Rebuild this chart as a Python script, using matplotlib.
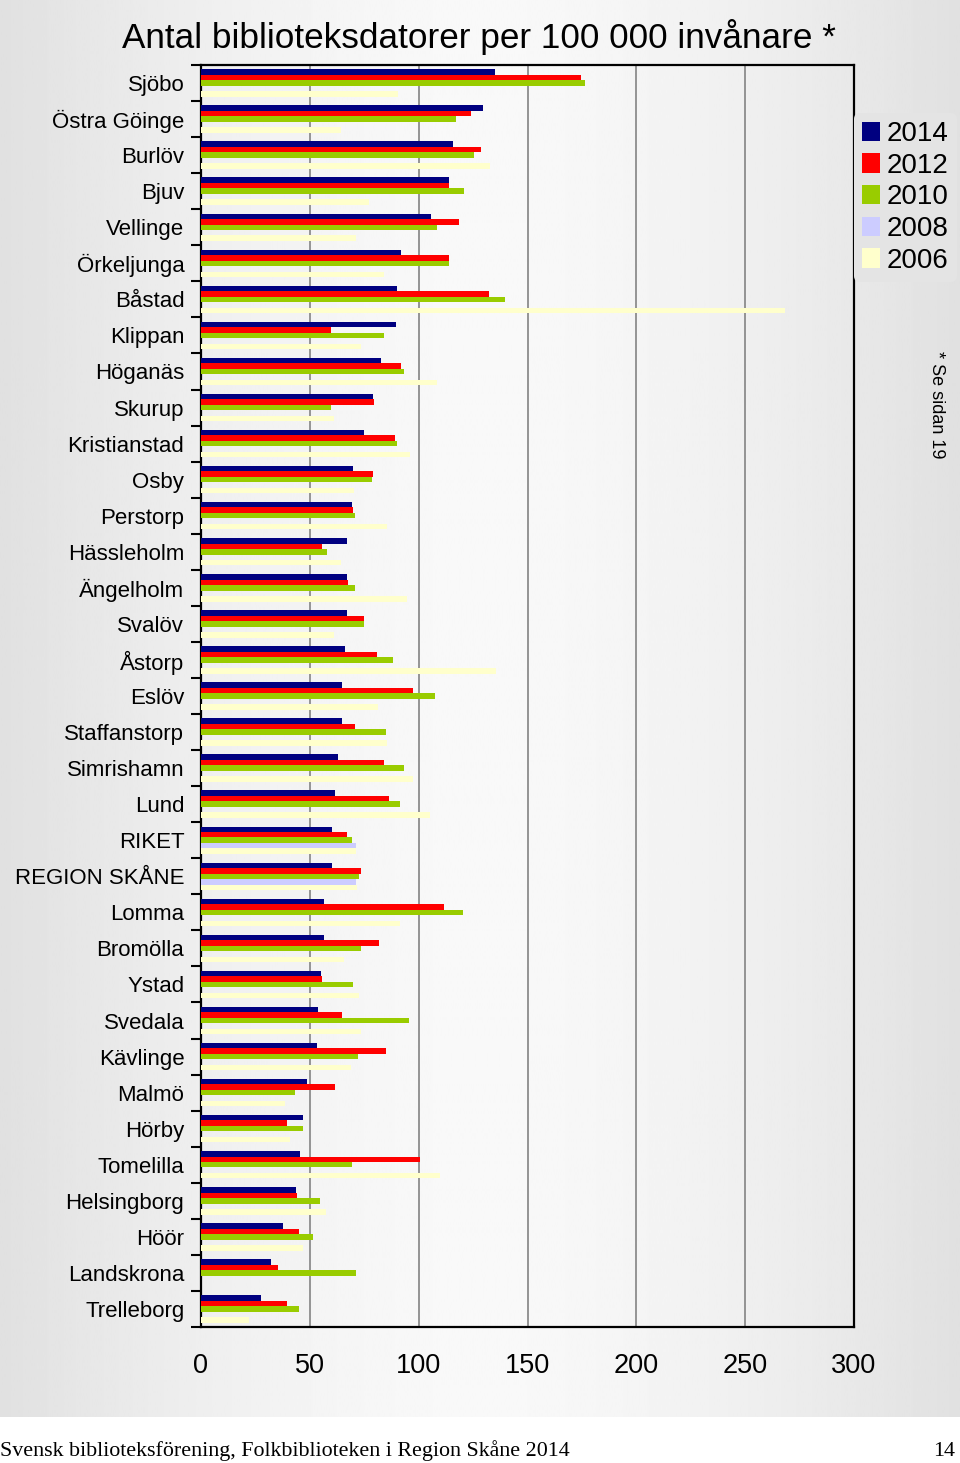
import matplotlib
matplotlib.use("Agg")
import matplotlib.pyplot as plt
import numpy as np
from matplotlib.patches import Patch

plt.rcParams['font.family'] = ['Liberation Sans', 'DejaVu Sans']

kommuner = ['Sjöbo', 'Östra Göinge', 'Burlöv', 'Bjuv', 'Vellinge', 'Örkeljunga',
            'Båstad', 'Klippan', 'Höganäs', 'Skurup', 'Kristianstad', 'Osby',
            'Perstorp', 'Hässleholm', 'Ängelholm', 'Svalöv', 'Åstorp', 'Eslöv',
            'Staffanstorp', 'Simrishamn', 'Lund', 'RIKET', 'REGION SKÅNE', 'Lomma',
            'Bromölla', 'Ystad', 'Svedala', 'Kävlinge', 'Malmö', 'Hörby',
            'Tomelilla', 'Helsingborg', 'Höör', 'Landskrona', 'Trelleborg']

v2014 = [135, 129.5, 115.8, 114, 105.5, 92, 90, 89.5, 82.9, 78.9, 75.1, 70,
         69.3, 66.9, 66.9, 66.9, 66.2, 64.9, 64.9, 62.9, 61.6, 60.4, 60.4, 56.4,
         56.4, 55.1, 53.8, 53.3, 48.7, 46.7, 45.6, 43.6, 37.8, 32, 27.5]
v2012 = [174.5, 124.2, 128.7, 114, 118.5, 114, 132.5, 59.6, 92, 79.6, 89.3, 78.9,
         70, 55.8, 67.5, 75.1, 80.9, 97.3, 70.7, 84.2, 86.2, 66.9, 73.3, 111.8,
         81.8, 55.8, 64.9, 84.9, 61.6, 39.6, 100.4, 44.2, 44.9, 35.3, 39.6]
v2010 = [176.4, 117.1, 125.5, 120.9, 108.2, 114, 139.6, 84.2, 93.3, 59.6, 90, 78.4,
         70.7, 57.8, 70.7, 75.1, 88.2, 107.5, 84.9, 93.3, 91.5, 69.3, 72.5, 120.4,
         73.3, 70, 95.6, 72, 43.1, 46.7, 69.3, 54.5, 51.3, 71.3, 44.9]
v2008 = [0, 0, 0, 0, 0, 0, 0, 0, 0, 0, 0, 0,
         0, 0, 0, 0, 0, 0, 0, 0, 0, 71.3, 71.3, 0,
         0, 0, 0, 0, 0, 0, 0, 0, 0, 0, 0]
v2006 = [90.5, 64.2, 132.7, 77.3, 71.3, 84, 268.2, 73.5, 108.5, 61.1, 96.2, 70.5,
         85.5, 64.2, 94.7, 61.1, 135.6, 81.5, 85.5, 97.6, 105.3, 71, 71.5, 91.5,
         65.5, 72.4, 73.3, 69.1, 38.4, 41.1, 109.6, 57.3, 46.9, 0, 22.2]

years = ['2014', '2012', '2010', '2008', '2006']
series = [v2014, v2012, v2010, v2008, v2006]
colors = ['#000080', '#ff0000', '#99cc00', '#ccccff', '#ffffcc']

fig = plt.figure(figsize=(9.6, 14.63), dpi=100)
fig.patch.set_facecolor('white')

# grey panel with horizontal gradient behind the chart
bg = fig.add_axes([0, (1463 - 1417) / 1463, 1, 1417 / 1463], zorder=0)
xs = np.linspace(-1, 1, 400)
shade = 0.975 - 0.095 * np.abs(xs) ** 1.6
bg.imshow(np.tile(shade, (2, 1)), cmap='gray', vmin=0, vmax=1,
          aspect='auto', extent=[0, 1, 0, 1])
bg.axis('off')

ax = fig.add_axes([201 / 960, (1463 - 1327) / 1463, 653 / 960, 1262 / 1463], zorder=1)
ax.set_facecolor('none')

y = np.arange(len(kommuner))
h = 0.152
for i, (vals, col, yr) in enumerate(zip(series, colors, years)):
    ax.barh(y + (i - 2) * h, vals, height=h, color=col, label=yr, zorder=3)

ax.set_xlim(0, 300)
ax.set_ylim(len(kommuner) - 0.5, -0.5)
ax.set_xticks([0, 50, 100, 150, 200, 250, 300])
ax.tick_params(axis='x', length=0, pad=19, labelsize=19.5)
ax.set_yticks(y)
ax.set_yticklabels(kommuner)
ax.tick_params(axis='y', length=0, pad=12, labelsize=16)
ax.set_yticks(np.arange(len(kommuner) + 1) - 0.5, minor=True)
ax.tick_params(axis='y', which='minor', length=7, width=1.5, direction='out')
for xv in [50, 100, 150, 200, 250]:
    ax.axvline(xv, color='#8c8c8c', linewidth=1.3, zorder=1)
for sp in ax.spines.values():
    sp.set_linewidth(1.6)
    sp.set_color('black')

fig.text(479 / 960, 1 - 37 / 1463, 'Antal biblioteksdatorer per 100 000 invånare *',
         fontsize=25.3, ha='center', va='center')

handles = [Patch(facecolor=c, edgecolor='none') for c in colors]
leg = ax.legend(handles, years, loc='upper left', bbox_to_anchor=(1.0, 0.962),
                frameon=True, fontsize=20, handlelength=0.62, handleheight=0.7,
                handletextpad=0.25, labelspacing=0.2, borderpad=0.3,
                borderaxespad=0)
leg.get_frame().set_facecolor('#e4e4e4')
leg.get_frame().set_edgecolor('none')
leg.get_frame().set_alpha(1)

fig.text(937 / 960, 1 - 405 / 1463, '* Se sidan 19', rotation=-90, fontsize=13,
         ha='center', va='center')

fig.text(0.0, 1 - 1451 / 1463, 'Svensk biblioteksförening, Folkbiblioteken i Region Skåne 2014',
         family='Liberation Serif', fontsize=15.8, ha='left', va='center')
fig.text(955 / 960, 1 - 1451 / 1463, '14', family='Liberation Serif', fontsize=15.8,
         ha='right', va='center')

fig.savefig('out.png', dpi=100)
